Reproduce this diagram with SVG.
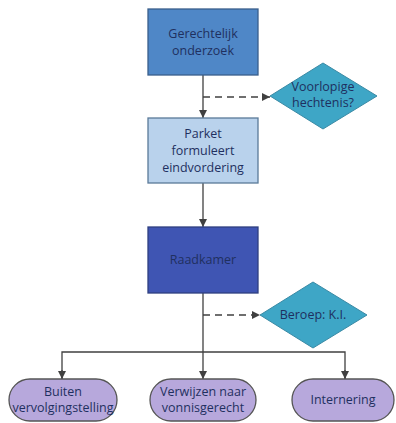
<svg xmlns="http://www.w3.org/2000/svg" width="396" height="423" viewBox="0 0 396 423">
<style>
text{font-family:"Open Sans","Liberation Sans",sans-serif;font-size:12.5px;text-anchor:middle;fill:#1f3060}
.c{stroke:#404040;stroke-width:1.3;fill:none}
.d{stroke:#404040;stroke-width:1.3;fill:none;stroke-dasharray:7,5}
.pill{fill:#b7a8dc;stroke:#555;stroke-width:1.3}
</style>
<defs>
<marker id="b" viewBox="0 0 10 10" refX="10" refY="5" markerWidth="8" markerHeight="8" orient="auto" markerUnits="userSpaceOnUse"><path d="M0,0L10,5L0,10z" fill="#404040"/></marker>
</defs>
<rect width="396" height="423" fill="#fff"/>
<g id="connectors">
<path class="c" d="M203,75V118" marker-end="url(#b)"/>
<path class="d" d="M203,97H270" marker-end="url(#b)"/>
<path class="c" d="M203,183V227" marker-end="url(#b)"/>
<path class="c" d="M203,293V379" marker-end="url(#b)"/>
<path class="d" d="M203,315H260" marker-end="url(#b)"/>
<path class="c" d="M62,379V352H345V379"/>
<path class="c" d="M62,370V379" marker-end="url(#b)"/>
<path class="c" d="M345,370V379" marker-end="url(#b)"/>
</g>
<g id="n1"><rect x="148" y="9" width="110" height="66" fill="#4f87c7" stroke="#3a5f8c" stroke-width="1.3"/><text x="203" y="38">Gerechtelijk</text><text x="203" y="55">onderzoek</text></g>
<g id="n2"><path d="M270,96L323,63L377,96L323,129Z" fill="#3ea6c6" stroke="#3a8aa5" stroke-width="1"/><text x="323" y="91" font-size="11">Voorlopige</text><text x="323" y="107" font-size="11">hechtenis?</text></g>
<g id="n3"><rect x="148" y="118" width="110" height="65" fill="#b9d2ec" stroke="#5a7a99" stroke-width="1.3"/><text x="203" y="138" fill="#2a3d55">Parket</text><text x="203" y="155" fill="#2a3d55">formuleert</text><text x="203" y="172" fill="#2a3d55">eindvordering</text></g>
<g id="n4"><rect x="148" y="227" width="110" height="66" fill="#3f55b3" stroke="#2e3f80" stroke-width="1.3"/><text x="203" y="264">Raadkamer</text></g>
<g id="n5"><path d="M260,315L313,282L367,315L313,348Z" fill="#3ea6c6" stroke="#3a8aa5" stroke-width="1"/><text x="313" y="319" font-size="11.5">Beroep: K.I.</text></g>
<g id="n6"><rect class="pill" x="9" y="379" width="108" height="42" rx="21"/><text x="63" y="396">Buiten</text><text x="63" y="412">vervolgingstelling</text></g>
<g id="n7"><rect class="pill" x="150" y="379" width="106" height="42" rx="21"/><text x="203" y="396">Verwijzen naar</text><text x="203" y="412">vonnisgerecht</text></g>
<g id="n8"><rect class="pill" x="292" y="379" width="102" height="42" rx="21"/><text x="343" y="404">Internering</text></g>
</svg>
